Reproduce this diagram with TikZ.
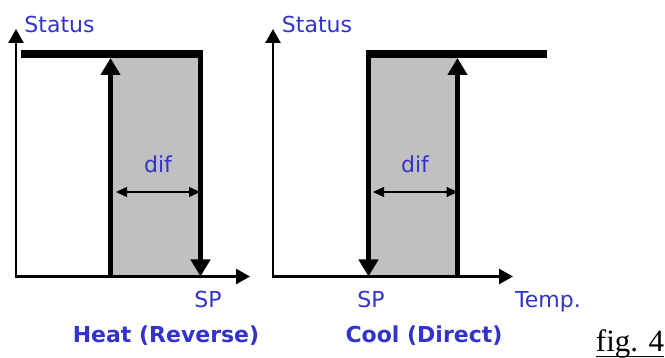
\documentclass[tikz,border=0pt]{standalone}
\usepackage{fontspec}
\setmainfont{DejaVu Sans}
\newfontfamily\figfont{Liberation Serif}
\usetikzlibrary{arrows.meta}
\definecolor{lblblue}{RGB}{51,51,204}
\definecolor{fillgray}{RGB}{192,192,192}
\newcommand\myuline[1]{\setbox0\hbox{#1}\rlap{\copy0}\rule[-5.2pt]{\wd0}{1.3pt}}
\begin{document}
\begin{tikzpicture}[x=1pt,y=-1pt,
  lbl/.style={text=lblblue, font=\fontsize{22}{26}\selectfont, inner sep=0pt, anchor=base},
  blbl/.style={text=lblblue, font=\fontsize{22}{26}\selectfont\bfseries, inner sep=0pt, anchor=base},
  axisline/.style={line width=2.5pt, line join=miter, {Triangle[width=15pt,length=14pt]}-{Triangle[width=15pt,length=14pt]}},
  edgeline/.style={line width=5pt, -{Triangle[width=19pt,length=17pt]}},
  edgeplain/.style={line width=5pt},
  topline/.style={line width=8pt},
  difarrow/.style={line width=1.5pt, {Triangle[width=10pt,length=11pt]}-{Triangle[width=10pt,length=11pt]}},
  graybox/.style={fill=fillgray, draw=none}
]
\useasboundingbox (0,0) rectangle (665,358);

% ---------- left diagram ----------
\coordinate (o1) at (16,276.5);
\coordinate (y1) at (16,29);
\coordinate (x1) at (250,276.5);
\fill[graybox] (110.5,54) rectangle (200.5,276.5);
\draw[axisline] (y1) -- (o1) -- (x1);
\coordinate (l1b) at (110.5,276.5);
\coordinate (l1t) at (110.5,58);
\draw[edgeline] (l1b) -- (l1t);
\coordinate (r1t) at (200.5,50);
\coordinate (r1b) at (200.5,276.5);
\draw[edgeline] (r1t) -- (r1b);
\coordinate (t1a) at (21,54);
\coordinate (t1b) at (203,54);
\draw[topline] (t1a) -- (t1b);
\coordinate (d1a) at (116,192);
\coordinate (d1b) at (200,192);
\draw[difarrow] (d1a) -- (d1b);

\node[lbl] (st1) at (59.5,33) {Status};
\node[lbl] (dif1) at (158,173) {dif};
\node[lbl] (sp1) at (208,308) {SP};
\node[blbl] (heat) at (166,343) {Heat (Reverse)};

% ---------- right diagram ----------
\coordinate (o2) at (273,276.5);
\coordinate (y2) at (273,29);
\coordinate (x2) at (513,276.5);
\fill[graybox] (368.5,54) rectangle (457.5,276.5);
\draw[axisline] (y2) -- (o2) -- (x2);
\coordinate (l2t) at (368.5,50);
\coordinate (l2b) at (368.5,276.5);
\draw[edgeline] (l2t) -- (l2b);
\coordinate (r2b) at (457.5,276.5);
\coordinate (r2t) at (457.5,58);
\draw[edgeline] (r2b) -- (r2t);
\coordinate (t2a) at (366,54);
\coordinate (t2b) at (547,54);
\draw[topline] (t2a) -- (t2b);
\coordinate (d2a) at (373,192);
\coordinate (d2b) at (457.5,192);
\draw[difarrow] (d2a) -- (d2b);

\node[lbl] (st2) at (317,33) {Status};
\node[lbl] (dif2) at (415,173) {dif};
\node[lbl] (sp2) at (371,308) {SP};
\node[lbl] (temp) at (548,308) {Temp.};
\node[blbl] (cool) at (424,343) {Cool (Direct)};

\node[inner sep=0pt, anchor=base, font=\figfont\fontsize{31}{36}\selectfont] (fig) at (630,352) {\myuline{fig. 4}};
\end{tikzpicture}
\end{document}
